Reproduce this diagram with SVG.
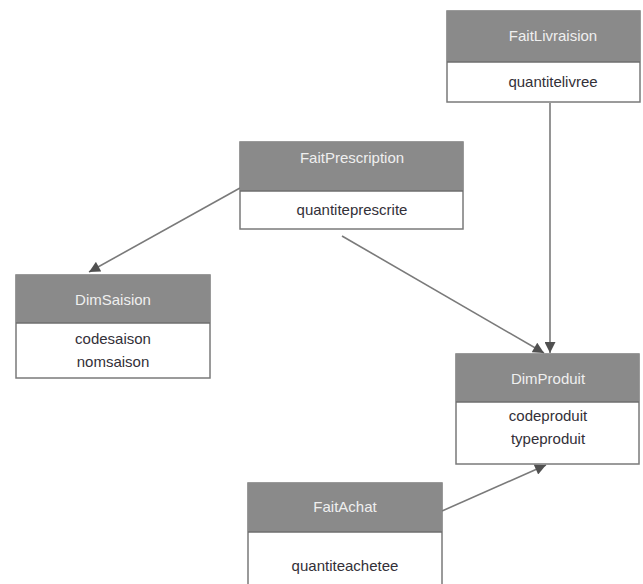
<svg xmlns="http://www.w3.org/2000/svg" width="643" height="584" viewBox="0 0 643 584">
<style>
.box{fill:#fff;stroke:#7a7a7a;stroke-width:1.5}
.hd{fill:#8a8a8a}
.sep{stroke:#6e6e6e;stroke-width:1.5}
.t{font-family:"Liberation Sans",Arial,sans-serif;font-size:15px;fill:#efefef;text-anchor:middle}
.a{font-family:"Liberation Sans",Arial,sans-serif;font-size:15px;fill:#333038;text-anchor:middle}
.c{stroke:#7a7a7a;stroke-width:1.6;fill:none;marker-end:url(#ah)}
</style>
<defs>
<marker id="ah" viewBox="0 0 10 10" refX="10" refY="5" markerWidth="12" markerHeight="11" markerUnits="userSpaceOnUse" orient="auto">
<path d="M0,0 L10,5 L0,10 z" fill="#505050"/>
</marker>
</defs>
<rect width="643" height="584" fill="#fff"/>
<g id="connectors">
<line class="c" x1="240" y1="188" x2="89" y2="272"/>
<line class="c" x1="342" y1="236" x2="544" y2="353"/>
<line class="c" x1="550" y1="103" x2="550" y2="353"/>
<line class="c" x1="442" y1="511" x2="546" y2="465"/>
</g>
<g id="FaitLivraision">
<rect class="box" x="447" y="11" width="193" height="91"/>
<rect class="hd" x="447" y="11" width="193" height="51"/>
<line class="sep" x1="447" y1="62" x2="640" y2="62"/>
<text class="t" x="553" y="41">FaitLivraision</text>
<text class="a" x="553" y="87">quantitelivree</text>
</g>
<g id="FaitPrescription">
<rect class="box" x="240" y="142" width="223" height="87"/>
<rect class="hd" x="240" y="142" width="223" height="49"/>
<line class="sep" x1="240" y1="191" x2="463" y2="191"/>
<text class="t" x="352" y="163">FaitPrescription</text>
<text class="a" x="352" y="215">quantiteprescrite</text>
</g>
<g id="DimSaision">
<rect class="box" x="16" y="275" width="194" height="103"/>
<rect class="hd" x="16" y="275" width="194" height="48"/>
<line class="sep" x1="16" y1="323" x2="210" y2="323"/>
<text class="t" x="113" y="305">DimSaision</text>
<text class="a" x="113" y="344">codesaison</text>
<text class="a" x="113" y="367">nomsaison</text>
</g>
<g id="DimProduit">
<rect class="box" x="456" y="354" width="183" height="110"/>
<rect class="hd" x="456" y="354" width="183" height="48"/>
<line class="sep" x1="456" y1="402" x2="639" y2="402"/>
<text class="t" x="548" y="384">DimProduit</text>
<text class="a" x="548" y="421">codeproduit</text>
<text class="a" x="548" y="444">typeproduit</text>
</g>
<g id="FaitAchat">
<rect class="box" x="248" y="483" width="194" height="110"/>
<rect class="hd" x="248" y="483" width="194" height="49"/>
<line class="sep" x1="248" y1="532" x2="442" y2="532"/>
<text class="t" x="345" y="512">FaitAchat</text>
<text class="a" x="345" y="571">quantiteachetee</text>
</g>
</svg>
